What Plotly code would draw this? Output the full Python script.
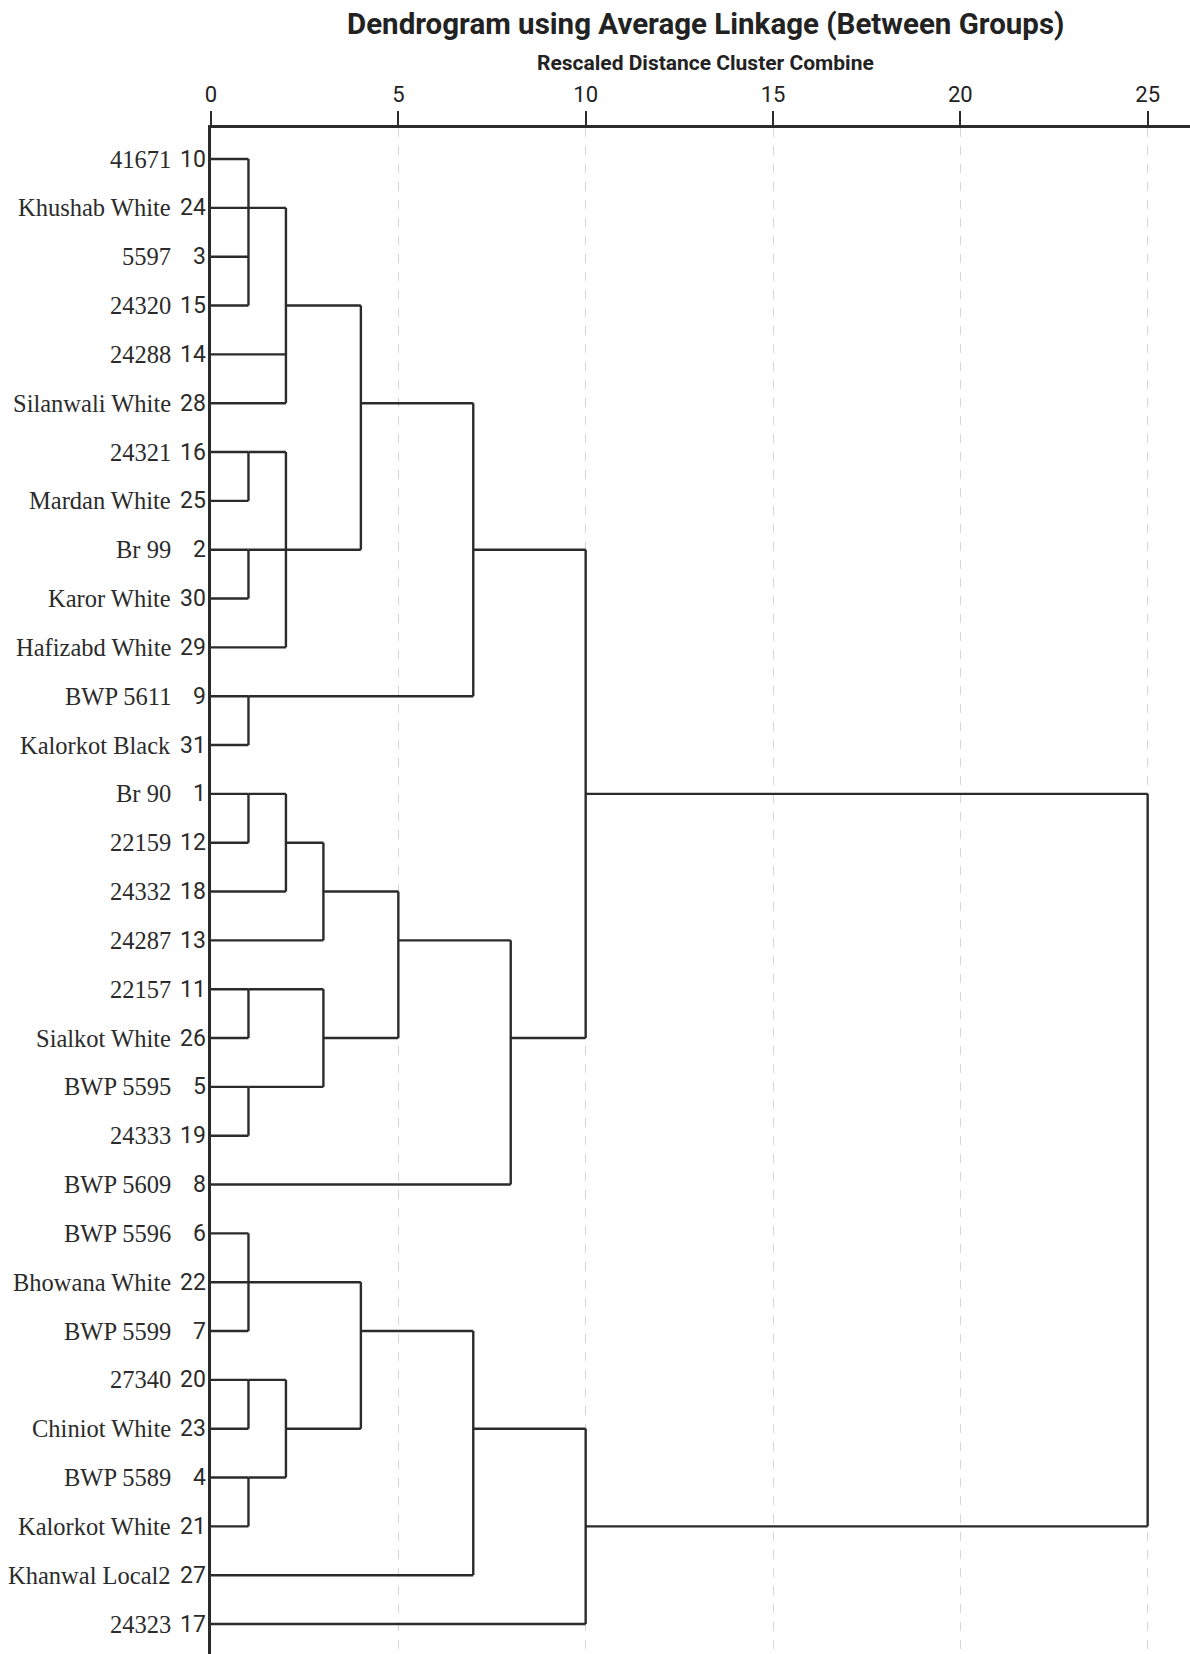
import math
import plotly.graph_objects as go

# Leaves, top to bottom
names = ["41671", "Khushab White", "5597", "24320", "24288", "Silanwali White",
         "24321", "Mardan White", "Br 99", "Karor White", "Hafizabd White",
         "BWP 5611", "Kalorkot Black", "Br 90", "22159", "24332", "24287",
         "22157", "Sialkot White", "BWP 5595", "24333", "BWP 5609",
         "BWP 5596", "Bhowana White", "BWP 5599", "27340", "Chiniot White",
         "BWP 5589", "Kalorkot White", "Khanwal Local2", "24323"]
case_nums = [10, 24, 3, 15, 14, 28, 16, 25, 2, 30, 29, 9, 31, 1, 12, 18, 13,
             11, 26, 5, 19, 8, 6, 22, 7, 20, 23, 4, 21, 27, 17]

# Merge steps: children (int = leaf row, str = earlier merge) and rescaled distance
merge_names = ["A", "B", "C", "D", "E", "F", "G", "H", "I", "J", "K", "L", "M",
               "N", "O", "P", "Q", "R", "S", "T", "U", "V", "W", "X", "Y"]
merge_children = [[0, 1, 2, 3], ["A", 4, 5], [6, 7], [8, 9], ["C", "D", 10],
                  ["B", "E"], [11, 12], ["F", "G"], [13, 14], ["I", 15],
                  ["J", 16], [17, 18], [19, 20], ["L", "M"], ["K", "N"],
                  ["O", 21], ["H", "P"], [22, 23, 24], [25, 26], [27, 28],
                  ["S", "T"], ["R", "U"], ["V", 29], ["W", 30], ["Q", "X"]]
merge_heights = [1, 2, 1, 1, 2, 4, 1, 7, 1, 2, 3, 1, 1, 3, 5, 8, 10, 1, 1, 1,
                 2, 4, 7, 10, 25]

tick_vals = [0, 5, 10, 15, 20, 25]

SANS = "Roboto, Liberation Sans, sans-serif"
SERIF = "Liberation Serif, Times New Roman, serif"
LINE = "#2b2b2b"

# Build the dendrogram segments
node_row = {}
node_h = {}
xs, ys = [], []
for name, kids, h in zip(merge_names, merge_children, merge_heights):
    rows = []
    for k in kids:
        if isinstance(k, int):
            r, x0 = k, 0
        else:
            r, x0 = node_row[k], node_h[k]
        rows.append(r)
        xs += [x0, h, None]
        ys += [r, r, None]
    xs += [h, h, None]
    ys += [min(rows), max(rows), None]
    node_row[name] = math.floor((min(rows) + max(rows)) / 2)
    node_h[name] = h

fig = go.Figure()
fig.add_trace(go.Scatter(x=xs, y=ys, mode="lines",
                         line=dict(color=LINE, width=2.4),
                         hoverinfo="skip", showlegend=False))

annotations = []
for i, (nm, num) in enumerate(zip(names, case_nums)):
    annotations.append(dict(xref="paper", yref="y", x=0, y=i, text=nm,
                            xanchor="right", yanchor="middle", xshift=-38,
                            showarrow=False,
                            font=dict(family=SERIF, size=24.5, color="#2b2b2b")))
    annotations.append(dict(xref="paper", yref="y", x=0, y=i, text=str(num),
                            xanchor="right", yanchor="middle", xshift=-3,
                            showarrow=False,
                            font=dict(family=SANS, size=23, color="#2b2b2b")))

annotations.append(dict(xref="paper", yref="paper", x=0.505, y=1, yshift=104,
                        text="<b>Dendrogram using Average Linkage (Between Groups)</b>",
                        xanchor="center", yanchor="middle", showarrow=False,
                        font=dict(family=SANS, size=29.5, color="#222222")))
annotations.append(dict(xref="paper", yref="paper", x=0.505, y=1, yshift=65,
                        text="<b>Rescaled Distance Cluster Combine</b>",
                        xanchor="center", yanchor="middle", showarrow=False,
                        font=dict(family=SANS, size=21, color="#222222")))

fig.update_layout(
    width=1190, height=1654,
    margin=dict(l=211, r=0, t=128, b=0),
    paper_bgcolor="white", plot_bgcolor="white",
    annotations=annotations,
    xaxis=dict(range=[0, 26.13], side="top", tickvals=tick_vals,
               ticks="outside", ticklen=14, tickwidth=1.5, tickcolor=LINE,
               showline=True, linecolor=LINE, linewidth=3,
               showgrid=True, gridcolor="#d6d6d6", gridwidth=1.3, griddash="dash",
               zeroline=False,
               tickfont=dict(family=SANS, size=22, color="#222222")),
    yaxis=dict(range=[30.614, -0.635], showticklabels=False, ticks="",
               showgrid=False, zeroline=False,
               showline=True, linecolor=LINE, linewidth=2.5),
)

fig.write_html("out.html")
